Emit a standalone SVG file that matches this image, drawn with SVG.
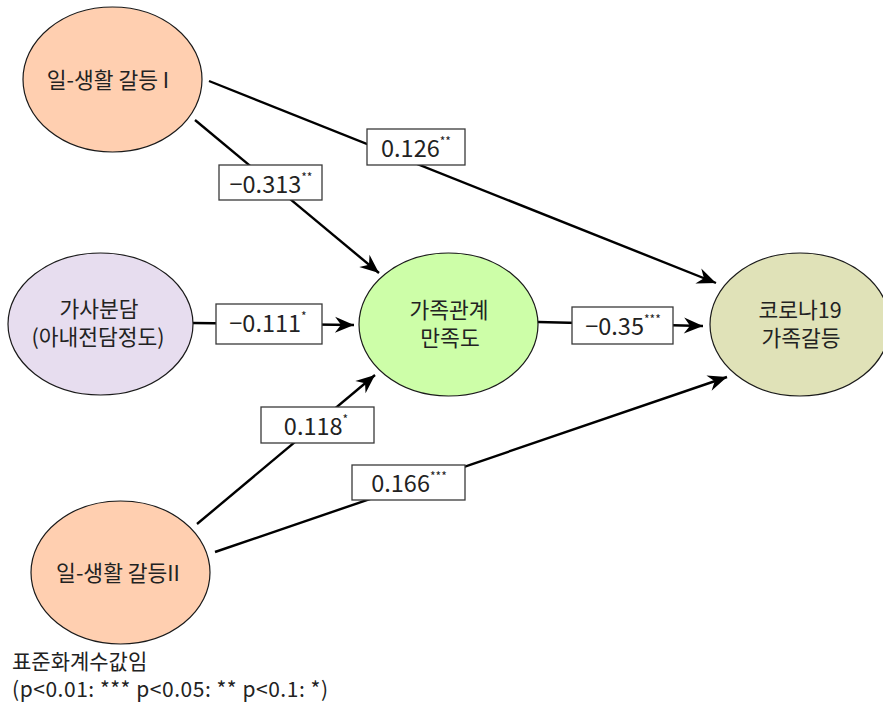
<svg xmlns="http://www.w3.org/2000/svg" width="883" height="705" viewBox="0 0 883 705">
<style>
  .node { stroke: #1a1a1a; stroke-width: 1.2; }
  .conn { stroke: #000; stroke-width: 2.4; fill: none; marker-end: url(#arr); }
  .lbox { fill: #fff; stroke: #3a3a3a; stroke-width: 1.3; }
  .kt { font-family: "Noto Sans CJK KR", "Noto Sans", sans-serif; font-size: 21.5px; fill: #222; text-anchor: middle; }
  .lt { font-family: "Noto Sans CJK KR", "Noto Sans", sans-serif; font-size: 23.5px; fill: #222; text-anchor: middle; }
  .sup { font-size: 12px; }
  .note { font-family: "Noto Sans CJK KR", "Noto Sans", sans-serif; font-size: 21px; fill: #222; }
</style>
<defs>
  <marker id="arr" markerUnits="userSpaceOnUse" markerWidth="24" markerHeight="20" viewBox="-20 -10 22 20" refX="0" refY="0" orient="auto">
    <path d="M0,0 L-19,-8 L-13,0 L-19,8 Z" fill="#000"/>
  </marker>
</defs>
<g id="connectors">
  <line class="conn" x1="209" y1="81" x2="716" y2="283"/>
  <line class="conn" x1="195" y1="120" x2="379" y2="273"/>
  <line class="conn" x1="193" y1="323" x2="354" y2="325"/>
  <line class="conn" x1="197" y1="524" x2="375" y2="375"/>
  <line class="conn" x1="215" y1="552" x2="727" y2="377"/>
  <line class="conn" x1="538" y1="322" x2="703" y2="326"/>
</g>
<g id="node-wlc1">
  <ellipse class="node" cx="112.5" cy="79.5" rx="89.5" ry="72.5" fill="#FFCFB0"/>
  <text class="kt" x="108" y="88">일-생활 갈등 I</text>
</g>
<g id="node-housework">
  <ellipse class="node" cx="100.5" cy="324" rx="92.5" ry="71" fill="#E7DDEF"/>
  <text class="kt" x="99" y="317">가사분담</text>
  <text class="kt" x="98" y="345">(아내전담정도)</text>
</g>
<g id="node-wlc2">
  <ellipse class="node" cx="120.5" cy="572.5" rx="89.5" ry="71.5" fill="#FFCFB0"/>
  <text class="kt" x="118" y="581">일-생활 갈등II</text>
</g>
<g id="node-family-sat">
  <ellipse class="node" cx="448.5" cy="324.5" rx="89.5" ry="71.5" fill="#CDFEA8"/>
  <text class="kt" x="449" y="318">가족관계</text>
  <text class="kt" x="450" y="346">만족도</text>
</g>
<g id="node-covid">
  <ellipse class="node" cx="800" cy="324.5" rx="90" ry="71.5" fill="#E0E2B8"/>
  <text class="kt" x="800" y="318">코로나19</text>
  <text class="kt" x="801" y="346">가족갈등</text>
</g>
<g id="labels">
  <rect class="lbox" x="219" y="165" width="103" height="35"/>
  <text class="lt" x="271" y="193">−0.313<tspan class="sup" dy="-11">**</tspan></text>
  <rect class="lbox" x="367" y="129" width="98" height="36"/>
  <text class="lt" x="416" y="157">0.126<tspan class="sup" dy="-11">**</tspan></text>
  <rect class="lbox" x="216" y="304" width="106" height="40"/>
  <text class="lt" x="268" y="332">−0.111<tspan class="sup" dy="-11">*</tspan></text>
  <rect class="lbox" x="261" y="407" width="113" height="36"/>
  <text class="lt" x="316" y="435">0.118<tspan class="sup" dy="-11">*</tspan></text>
  <rect class="lbox" x="352" y="465" width="113" height="35"/>
  <text class="lt" x="409" y="492">0.166<tspan class="sup" dy="-11">***</tspan></text>
  <rect class="lbox" x="572" y="307" width="101" height="37"/>
  <text class="lt" x="623" y="335">−0.35<tspan class="sup" dy="-11">***</tspan></text>
</g>
<g id="note">
  <text class="note" x="12" y="669">표준화계수값임</text>
  <text class="note" x="12" y="697" textLength="316" lengthAdjust="spacing">(p&lt;0.01: *** p&lt;0.05: ** p&lt;0.1: *)</text>
</g>
</svg>
